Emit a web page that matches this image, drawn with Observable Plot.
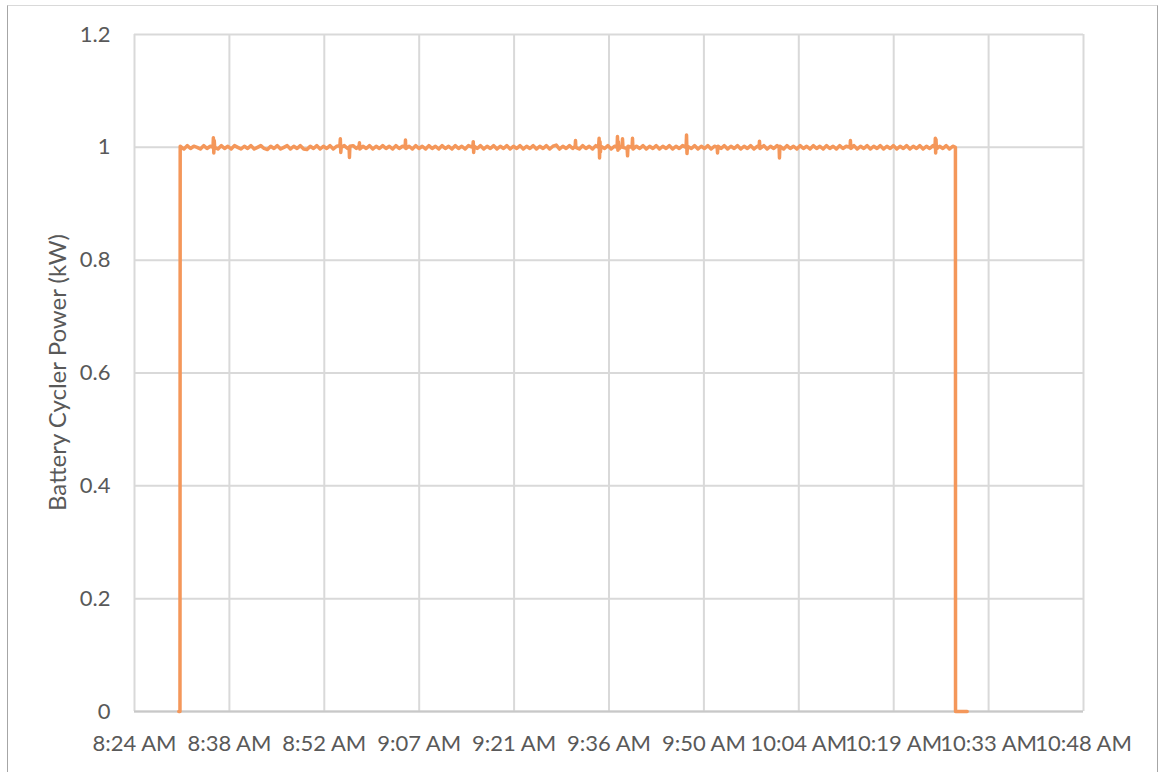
<!DOCTYPE html>
<html>
<head>
<meta charset="utf-8">
<script src="https://cdn.jsdelivr.net/npm/d3@7"></script>
<script src="https://cdn.jsdelivr.net/npm/@observablehq/plot@0.6"></script>
<style>
  html, body { margin: 0; padding: 0; background: #fff; overflow: hidden; }
  #wrap { position: relative; width: 1160px; height: 772px; }
  #frame { position: absolute; left: 7px; top: 5px; width: 1151px; height: 800px;
           border-top: 1px solid #D9D9D9; border-left: 1px solid #A6A6A6; border-right: 1px solid #A6A6A6;
           pointer-events: none; box-sizing: border-box; }
  svg { display: block; }
</style>
</head>
<body>
<div id="wrap"><div id="frame"></div></div>
<script>
// ---- data ----
const xDomain = ["08:24:00", "10:48:00"];
const xTickTimes = ["08:24:00","08:38:24","08:52:48","09:07:12","09:21:36","09:36:00","09:50:24","10:04:48","10:19:12","10:33:36","10:48:00"];
const xTickLabels = ["8:24 AM","8:38 AM","8:52 AM","9:07 AM","9:21 AM","9:36 AM","9:50 AM","10:04 AM","10:19 AM","10:33 AM","10:48 AM"];
const yTicks = [0, 0.2, 0.4, 0.6, 0.8, 1, 1.2];
const yTickLabels = ["0", "0.2", "0.4", "0.6", "0.8", "1", "1.2"];
const yLabel = "Battery Cycler Power (kW)";

const sampleTimes = [
"08:30:43","08:30:54","08:30:56","08:31:30","08:32:00","08:32:30","08:33:00","08:33:30","08:34:00","08:34:30",
"08:35:00","08:35:30","08:35:55","08:35:58","08:36:02","08:36:06","08:36:10","08:36:40","08:37:10","08:37:40",
"08:38:10","08:38:40","08:39:10","08:39:40","08:40:10","08:40:40","08:41:10","08:41:40","08:42:10","08:42:40",
"08:43:10","08:43:40","08:44:10","08:44:40","08:45:10","08:45:40","08:46:10","08:46:40","08:47:10","08:47:40",
"08:48:10","08:48:40","08:49:10","08:49:40","08:50:10","08:50:40","08:51:10","08:51:40","08:52:10","08:52:40",
"08:53:10","08:53:40","08:54:10","08:54:40","08:55:10","08:55:14","08:55:18","08:55:22","08:55:50","08:56:20",
"08:56:34","08:56:37","08:56:41","08:57:10","08:57:40","08:58:05","08:58:08","08:58:12","08:58:40","08:59:10",
"08:59:40","09:00:10","09:00:40","09:01:10","09:01:40","09:02:10","09:02:40","09:03:10","09:03:40","09:04:10",
"09:04:40","09:05:04","09:05:07","09:05:10","09:05:40","09:06:10","09:06:40","09:07:10","09:07:40","09:08:10",
"09:08:40","09:09:10","09:09:40","09:10:10","09:10:40","09:11:10","09:11:40","09:12:10","09:12:40","09:13:10",
"09:13:40","09:14:10","09:14:40","09:15:20","09:15:24","09:15:28","09:15:32","09:16:00","09:16:30","09:17:00",
"09:17:30","09:18:00","09:18:30","09:19:00","09:19:30","09:20:00","09:20:30","09:21:00","09:21:30","09:22:00",
"09:22:30","09:23:00","09:23:30","09:24:00","09:24:30","09:25:00","09:25:30","09:26:00","09:26:30","09:27:00",
"09:27:30","09:28:00","09:28:30","09:29:00","09:29:30","09:30:00","09:30:30","09:30:52","09:30:55","09:30:58",
"09:31:30","09:32:00","09:32:30","09:33:00","09:33:30","09:34:00","09:34:25","09:34:30","09:34:34","09:34:38",
"09:34:42","09:34:46","09:35:20","09:35:50","09:36:20","09:36:50","09:37:14","09:37:17","09:37:21","09:37:25",
"09:37:30","09:38:00","09:38:03","09:38:07","09:38:45","09:38:49","09:38:53","09:39:30","09:39:34","09:39:38",
"09:40:10","09:40:40","09:41:10","09:41:40","09:42:10","09:42:40","09:43:10","09:43:40","09:44:10","09:44:40",
"09:45:10","09:45:40","09:46:10","09:46:40","09:47:10","09:47:42","09:47:46","09:47:50","09:47:54","09:48:30",
"09:49:00","09:49:30","09:50:00","09:50:30","09:51:00","09:51:30","09:52:00","09:52:25","09:52:28","09:52:32",
"09:53:00","09:53:30","09:54:00","09:54:30","09:55:00","09:55:30","09:56:00","09:56:30","09:57:00","09:57:30",
"09:58:00","09:58:30","09:58:47","09:58:50","09:58:54","09:59:30","10:00:00","10:00:30","10:01:00","10:01:30",
"10:01:49","10:01:52","10:01:56","10:02:30","10:03:00","10:03:30","10:04:00","10:04:30","10:05:00","10:05:30",
"10:06:00","10:06:30","10:07:00","10:07:30","10:08:00","10:08:30","10:09:00","10:09:30","10:10:00","10:10:30",
"10:11:00","10:11:30","10:12:00","10:12:35","10:12:38","10:12:42","10:13:10","10:13:40","10:14:10","10:14:40",
"10:15:10","10:15:40","10:16:10","10:16:40","10:17:10","10:17:40","10:18:10","10:18:40","10:19:10","10:19:40",
"10:20:10","10:20:40","10:21:10","10:21:40","10:22:10","10:22:40","10:23:10","10:23:40","10:24:10","10:24:40",
"10:25:10","10:25:28","10:25:31","10:25:34","10:25:37","10:25:41","10:26:10","10:26:40","10:27:10","10:27:40",
"10:28:10","10:28:34","10:28:35","10:30:21"
];
const powerKW = [
0,0,1.002,0.997,1.003,0.998,1.002,1.000,0.997,1.003,
0.998,1.002,1.000,1.017,0.990,1.012,1.000,0.997,1.003,0.998,
1.002,0.997,1.003,1.000,0.997,1.002,0.998,1.003,0.997,1.000,
1.003,0.998,0.996,1.002,0.998,1.003,0.997,1.000,1.003,0.997,
1.002,0.998,1.003,0.997,0.996,1.002,0.998,1.003,0.997,1.002,
0.998,1.003,0.997,1.002,1.003,1.015,0.991,1.000,1.003,0.998,
1.000,0.982,1.002,1.003,0.998,1.002,1.008,0.997,1.002,0.998,
1.003,0.997,1.002,0.998,1.003,0.998,1.002,0.997,1.003,0.998,
1.002,1.000,1.013,0.998,1.002,0.997,1.003,0.998,1.002,0.997,
1.003,0.998,1.002,0.997,1.003,0.998,1.002,0.997,1.003,0.998,
1.002,0.997,1.003,1.000,1.010,0.991,1.002,0.998,1.003,0.997,
1.002,0.998,1.003,0.997,1.002,0.998,1.003,0.997,1.002,0.998,
1.003,0.997,1.002,0.998,1.003,0.997,1.002,0.998,1.003,0.997,
1.002,1.004,0.997,1.002,0.998,1.003,0.998,1.002,1.012,1.000,
0.997,1.003,0.998,1.002,0.997,1.003,1.000,1.016,0.981,1.010,
0.992,1.002,0.998,1.003,0.997,1.002,1.000,1.019,0.995,1.010,
0.997,1.003,1.015,1.000,0.998,0.985,1.002,1.000,1.016,0.997,
1.002,0.998,1.003,0.997,1.002,0.998,1.003,0.997,1.002,0.998,
1.003,0.997,1.002,0.998,1.003,1.000,1.022,0.989,1.002,0.998,
1.003,0.997,1.002,0.998,1.003,0.997,1.002,1.000,0.990,1.002,
0.998,1.003,0.997,1.002,0.998,1.003,0.997,1.002,0.998,1.003,
0.997,1.002,1.000,1.011,0.998,1.003,0.997,1.002,0.998,1.003,
1.000,0.981,1.002,0.997,1.003,0.998,1.002,0.997,1.003,0.998,
1.002,0.997,1.003,0.998,1.002,0.997,1.003,0.998,1.002,0.997,
1.003,0.998,1.002,1.000,1.012,0.998,1.003,0.997,1.002,0.998,
1.003,0.997,1.002,0.998,1.003,0.997,1.002,0.998,1.003,0.997,
1.002,0.998,1.003,0.997,1.002,0.998,1.003,0.997,1.002,0.998,
1.003,1.000,1.016,0.990,1.014,0.997,1.002,0.998,1.003,0.997,
1.002,1.000,0,0
];

// ---- build ----
const toDate = s => new Date("2020-01-01T" + s + "Z");
const data = sampleTimes.map((t, i) => ({time: toDate(t), power: powerKW[i]}));
const tickDates = xTickTimes.map(toDate);
const labelFor = d => xTickLabels[tickDates.findIndex(t => +t === +d)];

const FONT = "Lato, 'Open Sans', sans-serif";
const TXT = "#595959";

const chart = Plot.plot({
  width: 1160,
  height: 772,
  marginLeft: 134,
  marginRight: 77,
  marginTop: 34,
  marginBottom: 61,
  style: { fontFamily: FONT, fontSize: "22px", color: TXT, background: "transparent" },
  x: { type: "utc", domain: xDomain.map(toDate) },
  y: { domain: [0, 1.2] },
  marks: [
    Plot.gridX(tickDates, { stroke: "#D9D9D9", strokeOpacity: 1, strokeWidth: 2 }),
    Plot.gridY(yTicks, { stroke: "#D9D9D9", strokeOpacity: 1, strokeWidth: 2 }),
    Plot.ruleY([0], { stroke: "#C8C8C8", strokeWidth: 2 }),
    Plot.axisX(tickDates, { tickSize: 0, tickPadding: 24, tickFormat: labelFor, label: null, fill: TXT, fontSize: 22 }),
    Plot.axisY(yTicks, { tickSize: 0, tickPadding: 24, tickFormat: d => yTickLabels[yTicks.indexOf(d)], fill: TXT, fontSize: 22, label: null }),
    Plot.line(data, { x: "time", y: "power", stroke: "#F4975A", strokeWidth: 3.5, strokeLinejoin: "round", strokeLinecap: "round" })
  ]
});
document.getElementById("wrap").prepend(chart);
// y-axis title as real SVG text
d3.select(chart).append("text")
  .attr("transform", "translate(66,372.5) rotate(-90)")
  .attr("text-anchor", "middle")
  .attr("fill", TXT)
  .style("font-family", FONT)
  .style("font-size", "24px")
  .text(yLabel);
</script>
</body>
</html>
